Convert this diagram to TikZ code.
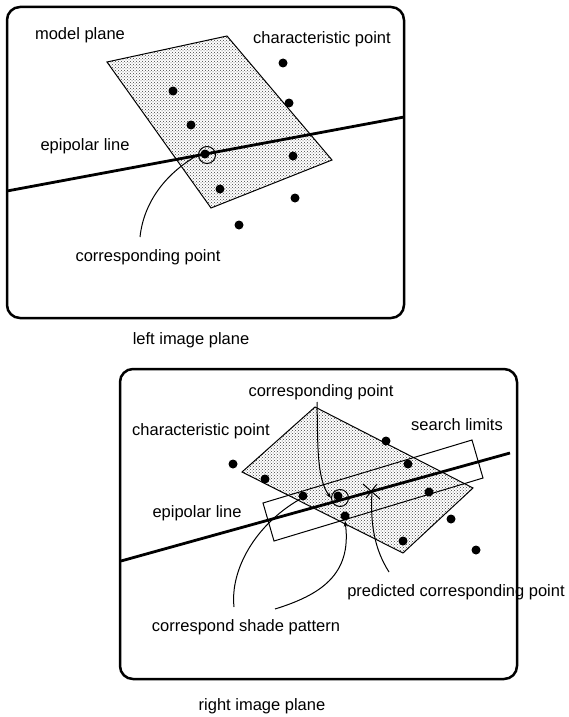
\documentclass[tikz,border=0pt]{standalone}
\usepackage{fontspec}
\setmainfont{Liberation Sans}
\usetikzlibrary{patterns,arrows.meta}
\begin{document}
\begin{tikzpicture}[x=1pt,y=-1pt,
  lbl/.style={inner sep=0pt,font=\fontsize{16.5}{18}\selectfont},
  panel/.style={line width=2.5pt,rounded corners=13pt},
  plane/.style={draw,line width=1pt,pattern=crosshatch dots,pattern color=black!75},
  epi/.style={line width=2.8pt},
  pt/.style={circle,fill=black,inner sep=0pt,minimum size=9pt},
  ring/.style={circle,draw,line width=1pt,inner sep=0pt,minimum size=17pt},
  conn/.style={line width=1pt},
  arr/.style={line width=1pt,-{Stealth[length=6pt,width=4pt]}}]
\useasboundingbox (0,0) rectangle (568,717);
% ---------- left image plane ----------
\draw[panel] (7,7) rectangle (404,318);
\draw[plane] (107,62) -- (227,36) -- (332,160) -- (211,208) -- cycle;
\coordinate (eL1) at (7,191);
\coordinate (eL2) at (404,117);
\draw[epi] (eL1) -- (eL2);
\foreach \n/\x/\y in {a/283/63,b/173/91,c/289/103,d/191/125,e/293/156,f/220/189,g/295/198,h/239/225}
  \node[pt] (L\n) at (\x,\y) {};
\node[pt] (Lcp) at (205,154) {};
\node[ring] (Lring) at (207,155) {};
\node[lbl] (Lmodel) at (80,35) {model plane};
\node[lbl] (Lchar) at (322,39) {characteristic point};
\node[lbl] (Lepi) at (85,146) {epipolar line};
\node[lbl] (Lcorr) at (148,257) {corresponding point};
\coordinate (Lc0) at (140,237);
\draw[conn] (Lc0) .. controls (144,200) and (168,172) .. (Lring.west);
\node[lbl] (Ltitle) at (191,340) {left image plane};
% ---------- right image plane ----------
\draw[panel] (120,369) rectangle (517,679);
\draw[plane] (315,407) -- (473,488) -- (403,553) -- (242,472) -- cycle;
\draw[line width=1pt] (263,503) -- (472,440) -- (483,478) -- (274,541) -- cycle;
\coordinate (eR1) at (121,561);
\coordinate (eR2) at (510,453);
\draw[epi] (eR1) -- (eR2);
\foreach \n/\x/\y in {a/386/441,b/233/464,c/408/464,d/265/479,e/303/496,f/429/492,g/345/516,h/451/519,i/403/541,j/476/550}
  \node[pt] (R\n) at (\x,\y) {};
\node[pt] (Rcp) at (338,496) {};
\node[ring] (Rring) at (340,498) {};
\coordinate (X) at (372,492);
\draw[line width=1pt] (363,484) -- (380,499) (366,498) -- (377,484);
\node[lbl] (Rcorr) at (321,392) {corresponding point};
\node[lbl] (Rchar) at (201,431) {characteristic point};
\node[lbl] (Rsearch) at (457,425) {search limits};
\node[lbl] (Repi) at (197,513) {epipolar line};
\node[lbl] (Rpred) at (456,592) {predicted corresponding point};
\node[lbl] (Rshade) at (246,627) {correspond shade pattern};
\node[lbl] (Rtitle) at (262,706) {right image plane};
% connectors
\coordinate (Rc1) at (317,402);
\draw[arr] (Rc1) .. controls (318,440) and (316,478) .. (Rring.west);
\coordinate (Rs1) at (234,607);
\draw[conn] (Rs1) .. controls (230,570) and (255,525) .. (Re.south west);
\coordinate (Rs2) at (275,609);
\draw[arr] (Rs2) .. controls (320,595) and (352,575) .. (Rg.south);
\coordinate (Rp1) at (389,572);
\draw[conn] (Rp1) .. controls (375,550) and (370,525) .. (X);
\end{tikzpicture}
\end{document}
